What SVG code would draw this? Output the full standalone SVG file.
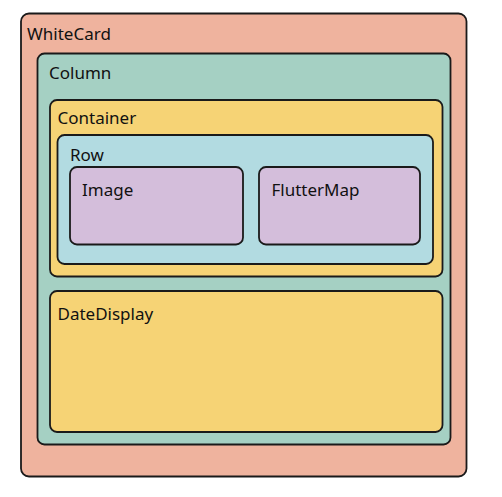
<svg xmlns="http://www.w3.org/2000/svg" width="502" height="497" viewBox="0 0 502 497">
<style>
.box{stroke:#1a1a1a;stroke-width:1.8}
.lbl{font-family:"Noto Sans","Open Sans","DejaVu Sans",sans-serif;font-size:17px;fill:#111}
</style>
<rect width="502" height="497" fill="#ffffff"/>
<g id="WhiteCard">
<rect class="box" x="21" y="13.5" width="445.5" height="463" rx="8" fill="#EFB39E"/>
<text class="lbl" x="27" y="39.5">WhiteCard</text>
</g>
<g id="Column">
<rect class="box" x="37.5" y="53.5" width="413" height="391" rx="7" fill="#A5D0C3"/>
<text class="lbl" x="49" y="79">Column</text>
</g>
<g id="Container">
<rect class="box" x="50" y="100" width="392.5" height="176.5" rx="7" fill="#F6D375"/>
<text class="lbl" x="57.5" y="124">Container</text>
</g>
<g id="Row">
<rect class="box" x="57.5" y="135" width="375.5" height="129" rx="7" fill="#B2DBE1"/>
<text class="lbl" x="70" y="161">Row</text>
</g>
<g id="Image">
<rect class="box" x="70" y="167" width="173" height="77.5" rx="7" fill="#D4BEDB"/>
<text class="lbl" x="82" y="196">Image</text>
</g>
<g id="FlutterMap">
<rect class="box" x="259" y="167" width="161" height="77.5" rx="7" fill="#D4BEDB"/>
<text class="lbl" x="271.5" y="196">FlutterMap</text>
</g>
<g id="DateDisplay">
<rect class="box" x="50" y="291" width="392.5" height="141" rx="7" fill="#F6D375"/>
<text class="lbl" x="57.5" y="320">DateDisplay</text>
</g>
<g id="connectors"/>
</svg>
